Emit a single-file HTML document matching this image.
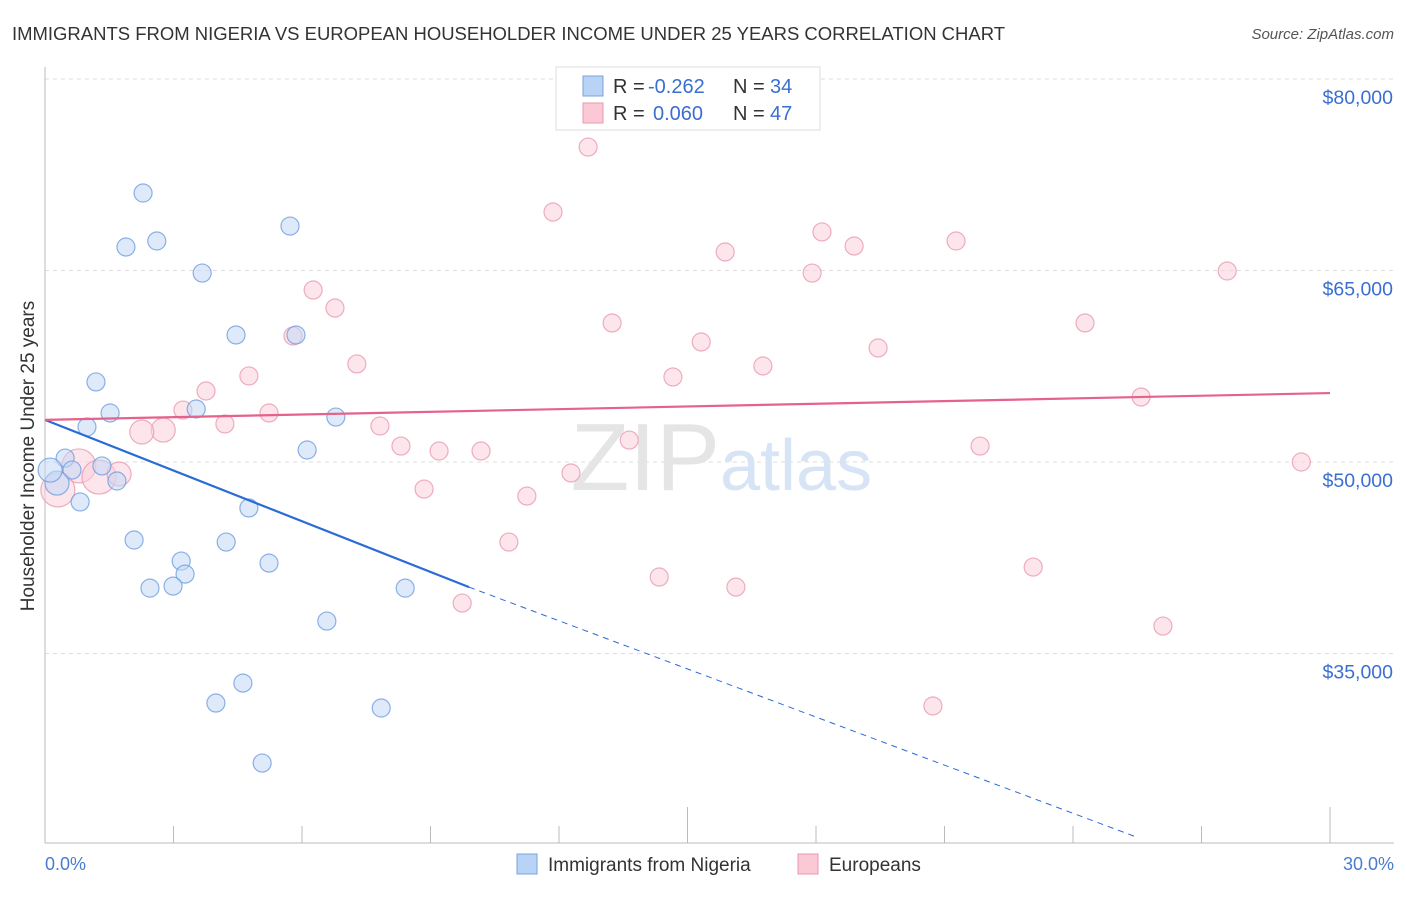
<!DOCTYPE html>
<html><head><meta charset="utf-8"><style>
body{margin:0;background:#fff;font-family:"Liberation Sans",sans-serif}
svg text{font-family:"Liberation Sans",sans-serif}
</style></head><body>
<svg width="1406" height="892" viewBox="0 0 1406 892" xmlns="http://www.w3.org/2000/svg">
<text x="12" y="40" font-size="18" fill="#333" textLength="993" lengthAdjust="spacingAndGlyphs">IMMIGRANTS FROM NIGERIA VS EUROPEAN HOUSEHOLDER INCOME UNDER 25 YEARS CORRELATION CHART</text>
<text x="1394" y="39" font-size="15" fill="#555" font-style="italic" text-anchor="end">Source: ZipAtlas.com</text>
<g id="grid"></g>
<text x="720" y="490" font-size="96" fill="#e5e5e5" text-anchor="end" font-family="Liberation Serif">ZIP</text>
<text x="720" y="490" font-size="72" fill="#d6e4f5">atlas</text>
<g id="axes"></g>
<g id="marks"></g>
<text transform="translate(34,456) rotate(-90)" font-size="19" fill="#333" text-anchor="middle">Householder Income Under 25 years</text>
<text x="45" y="870" font-size="18" fill="#4a7bd0">0.0%</text>
<text x="1394" y="870" font-size="18" fill="#4a7bd0" text-anchor="end">30.0%</text>
<g>
<rect x="517" y="854" width="20" height="20" fill="#b8d3f5" stroke="#7aa3dc"/>
<text x="548" y="871" font-size="19" fill="#333">Immigrants from Nigeria</text>
<rect x="798" y="854" width="20" height="20" fill="#fbc8d6" stroke="#e79ab0"/>
<text x="829" y="871" font-size="19" fill="#333">Europeans</text>
</g>
<g>
<rect x="556" y="67" width="264" height="63" fill="#fff" stroke="#ddd"/>
<rect x="583" y="76" width="20" height="20" fill="#b8d3f5" stroke="#7aa3dc"/>
<text x="613" y="93" font-size="20" fill="#333">R =</text>
<text x="648" y="93" font-size="20" fill="#3a6fd0">-0.262</text>
<text x="733" y="93" font-size="20" fill="#333">N =</text>
<text x="770" y="93" font-size="20" fill="#3a6fd0">34</text>
<rect x="583" y="103" width="20" height="20" fill="#fbc8d6" stroke="#e79ab0"/>
<text x="613" y="120" font-size="20" fill="#333">R =</text>
<text x="653" y="120" font-size="20" fill="#3a6fd0">0.060</text>
<text x="733" y="120" font-size="20" fill="#333">N =</text>
<text x="770" y="120" font-size="20" fill="#3a6fd0">47</text>
</g>
</svg>
<script>
const yTicks=[80000,65000,50000,35000];
const yTickLabels=["$80,000","$65,000","$50,000","$35,000"];
const nigeriaX=[2.29,1.89,2.61,5.72,3.67,4.46,5.86,1.19,1.52,3.53,6.79,0.98,6.12,0.47,0.63,1.33,1.68,0.28,0.82,4.76,2.08,4.23,3.18,3.27,2.45,2.99,5.23,8.41,6.58,4.62,3.99,7.85,5.07,0.12];
const nigeriaY=[71070,66840,67310,68480,64800,59950,59950,56270,53840,54150,53520,52740,50940,50310,49370,49690,48510,48350,46870,46400,43890,43730,42240,41220,40120,40280,42080,40120,37540,32680,31120,30730,26420,49370];
const nigeriaBig=[0,0,0,0,0,0,0,0,0,0,0,0,0,0,0,0,0,1,0,0,0,0,0,0,0,0,0,0,0,0,0,0,0,1];
const europeX=[12.68,11.86,18.14,21.27,18.89,15.88,17.91,27.60,6.26,6.77,5.79,13.24,24.28,15.32,19.45,7.28,16.76,4.76,14.66,3.76,25.59,3.22,5.23,4.20,2.76,2.26,7.82,13.64,8.31,9.20,10.18,21.83,29.33,0.79,12.28,1.26,1.73,8.85,11.25,0.30,10.83,14.34,16.13,23.07,9.74,26.10,20.73];
const europeY=[74670,69580,68020,67310,66920,66450,64800,64960,63470,62060,59870,60890,60890,59400,58930,57680,57520,56740,56660,55560,55090,54070,53840,52980,52500,52350,52820,51720,51250,50860,50860,51250,50000,49690,49140,48820,49060,47880,47330,47810,43730,40990,40200,41770,38950,37150,30890];
const europeBig=[0,0,0,0,0,0,0,0,0,0,0,0,0,0,0,0,0,0,0,0,0,0,0,0,1,1,0,0,0,0,0,0,0,2,0,2,1,0,0,2,0,0,0,0,0,0,0];
const nigeriaLine=[[0,53300],[9.9,40200],[25.5,20600]];
const europeLine=[[0,53300],[30,55400]];
const NS="http://www.w3.org/2000/svg";
const X=p=>45+p*(1285/30);
const Y=v=>79+(80000-v)*191.5/15000;
function mk(tag,attrs,parent){const e=document.createElementNS(NS,tag);for(const k in attrs)e.setAttribute(k,attrs[k]);parent.appendChild(e);return e;}
const grid=document.getElementById('grid'),axes=document.getElementById('axes'),marks=document.getElementById('marks');
yTicks.forEach((v,i)=>{
 const l=mk('line',{x1:45,x2:1394,y1:Y(v),y2:Y(v),stroke:'#ddd','stroke-dasharray':'4,4'},grid);
 
 
 const t=mk('text',{x:1393,y:Y(v)+25,'font-size':19.5,fill:'#3a6fd0','text-anchor':'end'},grid);
 t.textContent=yTickLabels[i];
 
 
});
const yl=mk('line',{x1:45,x2:45,y1:67,y2:843,stroke:'#bbb'},axes);


const xl=mk('line',{x1:45,x2:1394,y1:843,y2:843,stroke:'#bbb'},axes);


for(let i=1;i<=10;i++){
 const t=mk('line',{x1:X(i*3),x2:X(i*3),y1:(i==5||i==10)?807:826,y2:843,stroke:'#bbb'},axes);
 
 
}
function dots(xs,ys,big,fill,stroke,name){
 xs.forEach((x,i)=>{
  const r=big[i]==2?17:big[i]==1?12:9;
  const c=mk('circle',{cx:X(x),cy:Y(ys[i]),r:r,fill:fill,'fill-opacity':0.55,stroke:stroke,'stroke-width':1.2,'stroke-opacity':0.8},marks);
  
  
 });
}
dots(europeX,europeY,europeBig,'#fbd0dc','#e89ab2','point-europeans');
dots(nigeriaX,nigeriaY,nigeriaBig,'#c3d9f6','#6f9ee0','point-nigeria');
const b1=mk('line',{x1:X(nigeriaLine[0][0]),y1:Y(nigeriaLine[0][1]),x2:X(nigeriaLine[1][0]),y2:Y(nigeriaLine[1][1]),stroke:'#2b6bd6','stroke-width':2.2},marks);


const b2=mk('line',{x1:X(nigeriaLine[1][0]),y1:Y(nigeriaLine[1][1]),x2:X(nigeriaLine[2][0]),y2:Y(nigeriaLine[2][1]),stroke:'#2b6bd6','stroke-width':1,'stroke-dasharray':'6,5'},marks);


const p1=mk('line',{x1:X(europeLine[0][0]),y1:Y(europeLine[0][1]),x2:X(europeLine[1][0]),y2:Y(europeLine[1][1]),stroke:'#e5628a','stroke-width':2.2},marks);


</script>
</body></html>
